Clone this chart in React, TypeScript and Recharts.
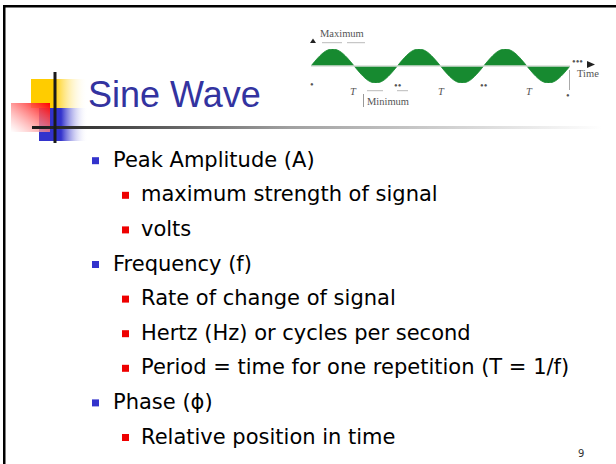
import React from 'react';
import { AreaChart, Area, XAxis, YAxis, ReferenceLine } from 'recharts';

// sine samples, 12 per period, 3 periods
const sampleTimes = [
  0, 1, 2, 3, 4, 5, 6, 7, 8, 9, 10, 11,
  12, 13, 14, 15, 16, 17, 18, 19, 20, 21, 22, 23,
  24, 25, 26, 27, 28, 29, 30, 31, 32, 33, 34, 35, 36,
];
const signalLevels = [
  0, 0.5, 0.87, 1, 0.87, 0.5, 0, -0.5, -0.87, -1, -0.87, -0.5,
  0, 0.5, 0.87, 1, 0.87, 0.5, 0, -0.5, -0.87, -1, -0.87, -0.5,
  0, 0.5, 0.87, 1, 0.87, 0.5, 0, -0.5, -0.87, -1, -0.87, -0.5, 0,
];

const bulletLevels = [1, 2, 2, 1, 2, 2, 2, 1, 2];
const bulletTexts = [
  'Peak Amplitude (A)',
  'maximum strength of signal',
  'volts',
  'Frequency (f)',
  'Rate of change of signal',
  'Hertz (Hz) or cycles per second',
  'Period = time for one repetition (T = 1/f)',
  'Phase (\u03D5)',
  'Relative position in time',
];

const periodLabels = ['T', 'T', 'T'];
const titleText = 'Sine Wave';
const pageNumber = '9';

const waveData = sampleTimes.map((t, i) => ({ t, v: signalLevels[i] }));

const GREEN = '#178a30';
const BODY_FONT = '"DejaVu Sans", Verdana, sans-serif';
const NOTE_FONT = '"Liberation Serif", "DejaVu Serif", serif';

function SineWave() {
  return (
    <AreaChart
      width={259}
      height={34}
      data={waveData}
      margin={{ top: 0, right: 0, bottom: 0, left: 0 }}
    >
      <XAxis dataKey="t" type="number" domain={[0, 36]} hide />
      <YAxis type="number" domain={[-1, 1]} hide />
      <Area
        type="monotone"
        dataKey="v"
        stroke={GREEN}
        strokeWidth={0.8}
        fill={GREEN}
        fillOpacity={1}
        isAnimationActive={false}
      />
      <ReferenceLine y={0} stroke="#d6dcd6" strokeWidth={1.4} />
    </AreaChart>
  );
}

function Slide() {
  const notes = { fontFamily: NOTE_FONT, fontSize: 10.5, fill: '#555' };
  return (
    <svg width={616} height={464} style={{ position: 'absolute', left: 0, top: 0 }}>
      <defs>
        <linearGradient id="yel" x1="0" y1="0" x2="1" y2="0">
          <stop offset="0" stopColor="#ffcc00" />
          <stop offset="0.4" stopColor="#ffcc00" />
          <stop offset="1" stopColor="#ffffff" stopOpacity="0" />
        </linearGradient>
        <linearGradient id="blu" x1="0" y1="0" x2="1" y2="0">
          <stop offset="0" stopColor="#3333cc" />
          <stop offset="0.45" stopColor="#3333cc" />
          <stop offset="1" stopColor="#ffffff" stopOpacity="0" />
        </linearGradient>
        <linearGradient id="red" x1="1" y1="0" x2="0" y2="1">
          <stop offset="0" stopColor="#ff0000" />
          <stop offset="1" stopColor="#ffffff" stopOpacity="0.6" />
        </linearGradient>
        <linearGradient id="rule" x1="0" y1="0" x2="1" y2="0">
          <stop offset="0" stopColor="#1a1a1a" />
          <stop offset="0.45" stopColor="#a0a0a0" />
          <stop offset="1" stopColor="#ffffff" />
        </linearGradient>
      </defs>

      {/* frame */}
      <rect x={3} y={5} width={613} height={2.5} fill="#000" />
      <rect x={3} y={5} width={2.5} height={459} fill="#000" />

      {/* title decoration */}
      <rect x={31} y={79} width={57} height={29} fill="url(#yel)" />
      <rect x={39} y={108} width={49} height={33} fill="url(#blu)" />
      <rect x={11} y={103} width={39} height={29} fill="url(#red)" />
      <rect x={32} y={126} width={570} height={3} fill="url(#rule)" />
      <rect x={53.5} y={72} width={3} height={71} fill="#1a1a1a" />

      <text x={88} y={107} fontFamily='"Liberation Sans", Arial, sans-serif' fontSize={36} fill="#3333a0">
        {titleText}
      </text>

      {/* bullets */}
      {bulletTexts.map((txt, i) => {
        const base = 166.7 + i * 34.6;
        const lvl = bulletLevels[i];
        const bx = lvl === 1 ? 92 : 122;
        const tx = lvl === 1 ? 113 : 141;
        return (
          <g key={i}>
            <rect x={bx} y={base - 9.5} width={7} height={7} fill={lvl === 1 ? '#3333cc' : '#ee0000'} />
            <text x={tx} y={base} fontFamily={BODY_FONT} fontSize={21} fill="#000">{txt}</text>
          </g>
        );
      })}

      <text x={578} y={457} fontFamily={BODY_FONT} fontSize={10} fill="#333">{pageNumber}</text>

      {/* wave annotations */}
      <polygon points="310,43 313,38.5 316,43" fill="#222" />
      <text x={320} y={37} {...notes}>Maximum</text>
      <line x1={322} y1={42.7} x2={342} y2={42.7} stroke="#bbb" strokeWidth={1} />
      <line x1={347} y1={42.7} x2={365} y2={42.7} stroke="#bbb" strokeWidth={1} />
      <text x={310} y={88} {...notes}>•</text>
      <text x={566} y={99} {...notes}>•</text>
      <text x={394} y={89} {...notes}>••</text>
      <text x={480} y={89} {...notes}>••</text>
      {periodLabels.map((p, i) => (
        <text key={i} x={[350, 438, 526][i]} y={95} {...notes} fontStyle="italic">{p}</text>
      ))}
      <line x1={367} y1={90.7} x2={383} y2={90.7} stroke="#bbb" strokeWidth={1} />
      <line x1={397} y1={90.7} x2={408} y2={90.7} stroke="#bbb" strokeWidth={1} />
      <line x1={363.5} y1={94} x2={363.5} y2={107} stroke="#999" strokeWidth={1} />
      <text x={367} y={105} {...notes}>Minimum</text>
      <line x1={569.5} y1={70} x2={569.5} y2={90} stroke="#aaa" strokeWidth={1} />
      <text x={572} y={65} {...notes}>•••</text>
      <polygon points="587,61 595,64.5 587,68" fill="#222" />
      <text x={577} y={77} {...notes}>Time</text>
    </svg>
  );
}

export default function App() {
  return (
    <div style={{ position: 'fixed', left: 0, top: 0, width: 616, height: 464, background: '#fff', overflow: 'hidden' }}>
      <Slide />
      <div style={{ position: 'absolute', left: 311, top: 49, width: 259, height: 34 }}>
        <SineWave />
      </div>
    </div>
  );
}
